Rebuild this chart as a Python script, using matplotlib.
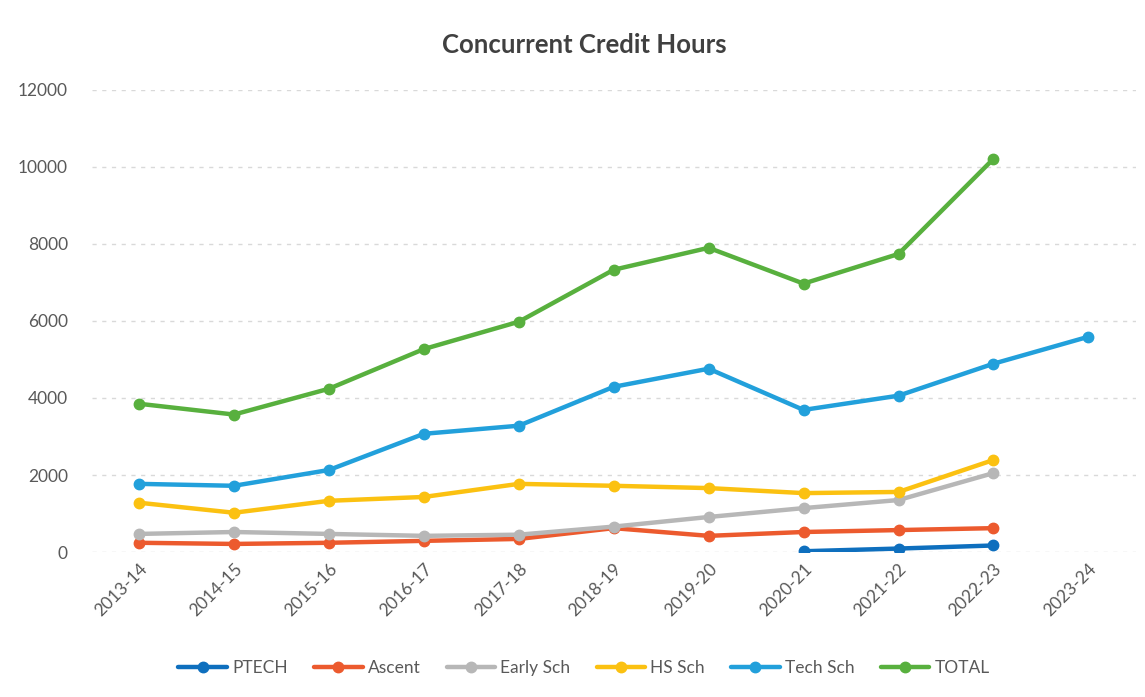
import matplotlib.pyplot as plt

plt.rcParams['font.family'] = ['Lato', 'DejaVu Sans']

years = ["2013-14", "2014-15", "2015-16", "2016-17", "2017-18", "2018-19",
         "2019-20", "2020-21", "2021-22", "2022-23", "2023-24"]

# values (None = no point)
ptech = [None, None, None, None, None, None, None, 20, 90, 170, None]
ascent = [240, 210, 240, 290, 340, 620, 420, 520, 570, 620, None]
early_sch = [470, 520, 470, 420, 450, 660, 910, 1140, 1350, 2050, None]
hs_sch = [1280, 1020, 1330, 1430, 1770, 1720, 1660, 1530, 1560, 2390, None]
tech_sch = [1770, 1720, 2130, 3070, 3280, 4290, 4760, 3690, 4060, 4890, 5590]
total = [3850, 3570, 4240, 5270, 5980, 7330, 7900, 6970, 7740, 10210, None]

series = [
    ("PTECH", ptech, "#0E6FBE"),
    ("Ascent", ascent, "#EC5A2E"),
    ("Early Sch", early_sch, "#B7B7B7"),
    ("HS Sch", hs_sch, "#FBC111"),
    ("Tech Sch", tech_sch, "#22A0DB"),
    ("TOTAL", total, "#58B03E"),
]

fig = plt.figure(figsize=(11.45, 6.97), dpi=100)
ax = fig.add_axes([0.080, 0.208, 0.912, 0.663])

x = list(range(len(years)))
for name, vals, color in series:
    xs = [i for i, v in zip(x, vals) if v is not None]
    ys = [v for v in vals if v is not None]
    ax.plot(xs, ys, color=color, lw=3.2, marker="o", markersize=7.5,
            label=name, solid_capstyle="round")

ax.set_xlim(-0.5, len(years) - 0.5)
ax.set_ylim(0, 12000)
ax.set_yticks(range(0, 12001, 2000))
ax.set_xticks(x)
ax.set_xticklabels(years, rotation=45, ha="right", rotation_mode="anchor")
ax.tick_params(axis="both", length=0, labelsize=12.5, colors="#595959")
ax.tick_params(axis="y", pad=17)
ax.tick_params(axis="x", pad=6)
ax.grid(axis="y", color="#d9d9d9", lw=1, ls=(0, (3, 4)))
ax.set_axisbelow(True)
for s in ax.spines.values():
    s.set_visible(False)

fig.suptitle("Concurrent Credit Hours", x=0.51, y=0.952, fontsize=18.5,
             fontweight="bold", color="#404040")

fig.legend(loc="lower center", ncol=6, bbox_to_anchor=(0.51, 0.008),
           frameon=False, fontsize=12.5, labelcolor="#595959",
           handlelength=2.8, columnspacing=1.5, handletextpad=0.3)

fig.savefig("out.png", dpi=100)
